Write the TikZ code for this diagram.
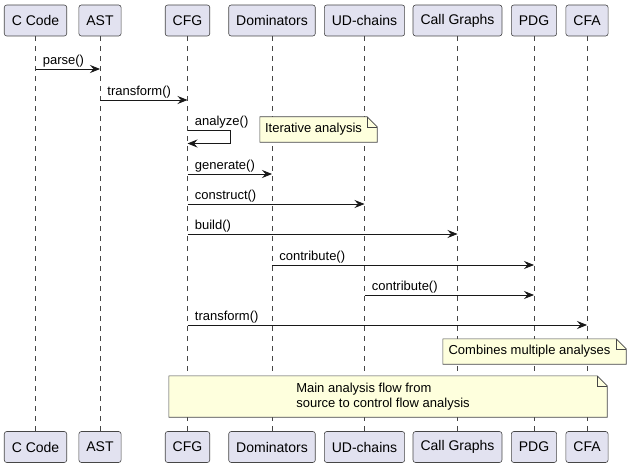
\documentclass[tikz,border=0pt]{standalone}
\usepackage{fontspec}
\setmainfont{Liberation Sans}
\usepackage{xcolor}
\definecolor{partbg}{HTML}{E2E2F0}
\definecolor{notebg}{HTML}{FEFFDD}
\definecolor{ink}{HTML}{181818}
\usepackage{tikz}
\usetikzlibrary{arrows.meta,backgrounds,calc}
\tikzset{
    part/.style={
    rectangle,rounded corners=2.5pt,draw=ink!80,fill=partbg,line width=0.6pt,
    minimum height=31pt,inner xsep=7.5pt,font=\fontsize{14}{16}\selectfont
    },
    lifeline/.style={draw=ink!80,line width=0.5pt,dash pattern=on 5pt off 5pt},
    call/.style={draw=ink,line width=0.8pt,-{Stealth[length=10pt,width=8pt,inset=3.5pt]}},
    lbl/.style={anchor=base west,xshift=7pt,yshift=4.5pt,inner sep=0pt,font=\fontsize{13}{15}\selectfont},
    notebody/.style={rectangle,inner sep=0pt,align=left,font=\fontsize{13}{15.5}\selectfont},
    noteline/.style={draw=ink!80,fill=notebg,line width=0.6pt},
}
\newcommand{\dogear}[1]{%
    \draw[noteline] (#1.north west) -- (#1.north east) -- ([xshift=10pt,yshift=-10pt]#1.north east)
        -- ([xshift=10pt]#1.south east) -- (#1.south west) -- cycle;
    \draw[noteline,fill=none] (#1.north east) |- ([xshift=10pt,yshift=-10pt]#1.north east);
}
\begin{document}
\begin{tikzpicture}[x=1pt,y=-1pt]
    \useasboundingbox (0,0) rectangle (631,468);

    % participants and lifelines
    \foreach \id/\name/\x in {ccode/C Code/35.5,ast/AST/100,cfg/CFG/187.5,dom/Dominators/272,
        ud/UD-chains/364.5,cg/Call Graphs/457.5,pdg/PDG/534,cfa/CFA/587}{
        \node[part] (\id) at (\x,20.5) {\name};
        \node[part] (\id bot) at (\x,447) {\name};
        \begin{scope}[on background layer]
            \draw[lifeline] (\id.south) -- (\id bot.north);
        \end{scope}
    }

    % messages
    \draw[call] (ccode |- 0,69) -- (ast |- 0,69) node[lbl,pos=0] {parse()};
    \draw[call] (ast |- 0,100) -- (cfg |- 0,100) node[lbl,pos=0] {transform()};
    \draw[call] (cfg |- 0,130) node[lbl] {analyze()} -- ++(43,0) |- (cfg |- 0,143.5);
    \draw[call] (cfg |- 0,174) -- (dom |- 0,174) node[lbl,pos=0] {generate()};
    \draw[call] (cfg |- 0,204) -- (ud |- 0,204) node[lbl,pos=0] {construct()};
    \draw[call] (cfg |- 0,234) -- (cg |- 0,234) node[lbl,pos=0] {build()};
    \draw[call] (dom |- 0,265) -- (pdg |- 0,265) node[lbl,pos=0] {contribute()};
    \draw[call] (ud |- 0,295) -- (pdg |- 0,295) node[lbl,pos=0] {contribute()};
    \draw[call] (cfg |- 0,325) -- (cfa |- 0,325) node[lbl,pos=0] {transform()};

    % notes
    \node[notebody,minimum width=107pt,minimum height=25pt] (iter) at (313.5,129.5) {Iterative analysis};
    \node[notebody,minimum width=173pt,minimum height=25pt] (comb) at (529.5,351.5) {Combines multiple analyses};
    \node[notebody,minimum width=428pt,minimum height=41pt] (flow) at (383,396.5)
        {Main analysis flow from\\source to control flow analysis};
    \begin{scope}[on background layer]
        \dogear{iter}
        \dogear{comb}
        \dogear{flow}
    \end{scope}
\end{tikzpicture}
\end{document}
